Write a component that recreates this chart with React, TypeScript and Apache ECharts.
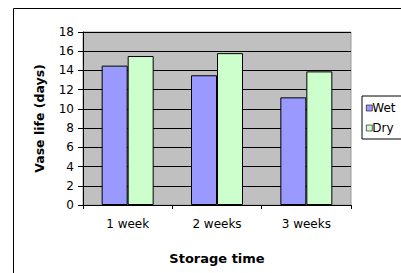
import React, { useEffect, useRef } from "react";
import * as echarts from "echarts";

const categories = ["1 week", "2 weeks", "3 weeks"];
const wetValues = [14.5, 13.5, 11.2];
const dryValues = [15.5, 15.8, 13.9];
const seriesNames = ["Wet", "Dry"];

export default function App() {
  const ref = useRef<HTMLDivElement>(null);
  useEffect(() => {
    const chart = echarts.init(ref.current!, null, { renderer: "svg" });
    const font = "DejaVu Sans, Arial, sans-serif";
    chart.setOption({
      animation: false,
      backgroundColor: "#ffffff",
      graphic: [
        {
          type: "rect",
          shape: { x: 13.5, y: 8.5, width: 500, height: 400 },
          style: { fill: "none", stroke: "#000", lineWidth: 1 },
          z: -10,
        },
      ],
      grid: {
        left: 83,
        top: 32,
        right: 50,
        bottom: 68,
        show: true,
        backgroundColor: "#C0C0C0",
        borderColor: "#9a9a9a",
        borderWidth: 1,
      },
      legend: {
        orient: "vertical",
        left: 362,
        top: 96,
        itemWidth: 6,
        itemHeight: 6,
        itemGap: 8,
        padding: [6, 30, 5, 4],
        borderColor: "#000",
        borderWidth: 1,
        backgroundColor: "#fff",
        icon: "rect",
        itemStyle: { borderColor: "#000", borderWidth: 0.6 },
        textStyle: { fontFamily: font, fontSize: 12, color: "#000", padding: [0, 0, 0, -5] },
        data: seriesNames,
      },
      xAxis: {
        type: "category",
        data: categories,
        name: "Storage time",
        nameLocation: "middle",
        nameGap: 47,
        nameTextStyle: { fontFamily: font, fontSize: 13, fontWeight: "bold", color: "#000" },
        axisLine: { lineStyle: { color: "#000" } },
        axisTick: { show: true, length: 4, lineStyle: { color: "#000" } },
        axisLabel: { fontFamily: font, fontSize: 12, color: "#000", margin: 13 },
      },
      yAxis: {
        type: "value",
        min: 0,
        max: 18,
        interval: 2,
        name: "Vase life (days)",
        nameLocation: "middle",
        nameGap: 37,
        nameTextStyle: { fontFamily: font, fontSize: 12.5, fontWeight: "bold", color: "#000" },
        axisLine: { show: true, lineStyle: { color: "#000" } },
        axisTick: { show: true, length: 5, lineStyle: { color: "#000" } },
        axisLabel: { fontFamily: font, fontSize: 12, color: "#000", margin: 9 },
        splitLine: { show: true, lineStyle: { color: "#000", width: 1 } },
      },
      series: [
        {
          name: seriesNames[0],
          type: "bar",
          data: wetValues,
          barWidth: 26,
          barGap: "0%",
          itemStyle: { color: "#9999FF", borderColor: "#000", borderWidth: 1 },
        },
        {
          name: seriesNames[1],
          type: "bar",
          data: dryValues,
          barWidth: 26,
          barGap: "0%",
          itemStyle: { color: "#CCFFCC", borderColor: "#000", borderWidth: 1 },
        },
      ],
    });
    return () => chart.dispose();
  }, []);
  return <div ref={ref} style={{ width: 401, height: 273, position: "absolute", left: 0, top: 0 }} />;
}
